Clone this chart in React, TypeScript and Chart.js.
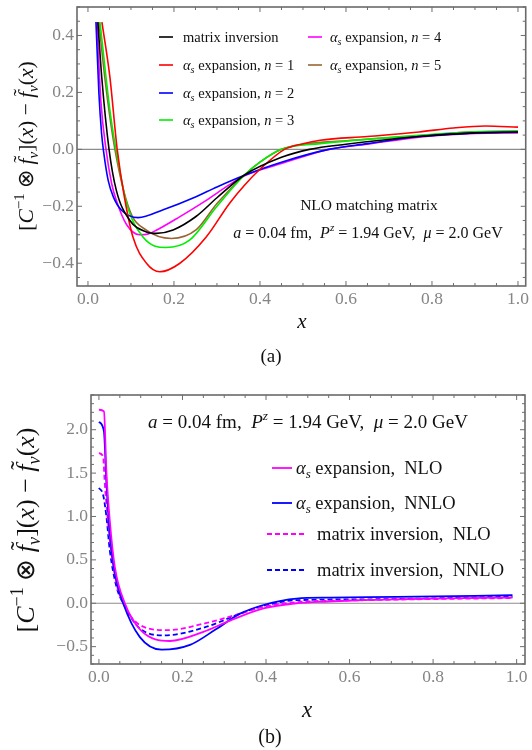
import React, { useEffect, useRef } from 'react';
import { Chart, registerables } from 'chart.js';
Chart.register(...registerables);

const SERIF = '"Liberation Serif", "Times New Roman", serif';

// ---------- Panel (a): NLO matching matrix ----------
const matrixX = [0.023, 0.032, 0.049, 0.066, 0.097, 0.136, 0.159, 0.198, 0.252, 0.3, 0.364, 0.45, 0.515, 0.6, 0.77, 0.9, 1.0];
const matrixY = [0.447, 0.254, 0.0, -0.144, -0.249, -0.29, -0.295, -0.283, -0.235, -0.17, -0.09, -0.028, 0.0, 0.018, 0.045, 0.058, 0.061];
const n1X = [0.0325, 0.051, 0.068, 0.085, 0.105, 0.136, 0.167, 0.213, 0.275, 0.329, 0.364, 0.4, 0.457, 0.5, 0.54, 0.65, 0.77, 0.85, 0.925, 1.0];
const n1Y = [0.447, 0.254, 0.0, -0.17, -0.31, -0.4, -0.43, -0.401, -0.308, -0.19, -0.126, -0.07, 0.0, 0.02, 0.032, 0.045, 0.061, 0.075, 0.082, 0.078];
const n2X = [0.0186, 0.0255, 0.0317, 0.037, 0.047, 0.059, 0.078, 0.117, 0.175, 0.25, 0.3, 0.364, 0.45, 0.56, 0.65, 0.77, 0.9, 1.0];
const n2Y = [0.447, 0.195, 0.055, -0.015, -0.109, -0.167, -0.214, -0.24, -0.212, -0.167, -0.132, -0.091, -0.045, 0.0, 0.02, 0.045, 0.058, 0.06];
const n3X = [0.0279, 0.051, 0.065, 0.09, 0.128, 0.181, 0.237, 0.3, 0.364, 0.4, 0.45, 0.54, 0.77, 0.9, 1.0];
const n3Y = [0.447, 0.137, 0.0, -0.19, -0.308, -0.345, -0.318, -0.2, -0.09, -0.045, 0.0, 0.02, 0.049, 0.062, 0.064];
const n4X = [0.0209, 0.03, 0.042, 0.055, 0.066, 0.09, 0.12, 0.14, 0.159, 0.213, 0.275, 0.329, 0.364, 0.45, 0.56, 0.65, 0.77, 0.9, 1.0];
const n4Y = [0.447, 0.17, 0.0, -0.12, -0.18, -0.265, -0.3, -0.297, -0.284, -0.237, -0.179, -0.124, -0.093, -0.05, 0.0, 0.018, 0.043, 0.056, 0.058];
const n5X = [0.0255, 0.039, 0.0627, 0.097, 0.136, 0.194, 0.252, 0.3, 0.364, 0.4, 0.45, 0.5, 0.6, 0.77, 0.9, 1.0];
const n5Y = [0.447, 0.254, 0.0, -0.214, -0.284, -0.313, -0.282, -0.19, -0.09, -0.045, 0.0, 0.018, 0.03, 0.048, 0.062, 0.064];

const topXTicks = [0, 0.2, 0.4, 0.6, 0.8, 1.0];
const topYTicks = [-0.4, -0.2, 0, 0.2, 0.4];

// ---------- Panel (b) ----------
const asNLOX = [0, 0.012, 0.018, 0.026, 0.038, 0.062, 0.1, 0.17, 0.25, 0.314, 0.394, 0.473, 0.55, 0.633, 0.793, 0.99];
const asNLOY = [2.23, 2.21, 1.5, 0.95, 0.42, 0.0, -0.31, -0.435, -0.33, -0.2, -0.06, 0.0, 0.02, 0.035, 0.054, 0.065];
const asNNLOX = [0, 0.012, 0.018, 0.026, 0.038, 0.058, 0.098, 0.15, 0.218, 0.28, 0.338, 0.394, 0.473, 0.553, 0.713, 0.99];
const asNNLOY = [2.09, 1.98, 1.38, 0.81, 0.35, 0.0, -0.39, -0.535, -0.48, -0.3, -0.12, -0.02, 0.054, 0.065, 0.073, 0.092];
const miNLOX = [0, 0.01, 0.014, 0.026, 0.042, 0.058, 0.098, 0.162, 0.258, 0.338, 0.394, 0.473, 0.633, 0.99];
const miNLOY = [1.73, 1.69, 1.38, 0.73, 0.23, 0.0, -0.25, -0.31, -0.227, -0.12, -0.04, 0.012, 0.035, 0.06];
const miNNLOX = [0, 0.01, 0.018, 0.026, 0.042, 0.058, 0.098, 0.158, 0.258, 0.338, 0.394, 0.473, 0.633, 0.99];
const miNNLOY = [1.33, 1.25, 0.995, 0.61, 0.19, 0.0, -0.29, -0.37, -0.27, -0.12, -0.03, 0.035, 0.045, 0.075];

const botXTicks = [0, 0.2, 0.4, 0.6, 0.8, 1.0];
const botYTicks = [-0.5, 0, 0.5, 1.0, 1.5, 2.0];

type Seg = [string, string];

const pts = (xs: number[], ys: number[]) => xs.map((x, i) => ({ x, y: ys[i] }));
const fmt = (v: number) => (v < 0 ? '\u2212' + Math.abs(v).toFixed(1) : v.toFixed(1));

function segFont(style: string, size: number) {
  const small = style.startsWith('sub') || style.startsWith('sup');
  const it = style.endsWith('i');
  const sz = small ? size * 0.7 : size;
  return `${it ? 'italic ' : ''}${sz}px ${SERIF}`;
}

function drawRich(ctx: CanvasRenderingContext2D, segs: Seg[], x: number, y: number, size: number, align: string, color = '#111') {
  ctx.save();
  ctx.fillStyle = color;
  ctx.textBaseline = 'alphabetic';
  ctx.textAlign = 'left';
  let total = 0;
  const widths = segs.map(([t, s]) => {
    ctx.font = segFont(s, size);
    const w = ctx.measureText(t).width;
    total += w;
    return w;
  });
  let cx = align === 'center' ? x - total / 2 : align === 'right' ? x - total : x;
  segs.forEach(([t, s], i) => {
    ctx.font = segFont(s, size);
    let dy = 0;
    if (s.startsWith('sub')) dy = size * 0.22;
    if (s.startsWith('sup')) dy = -size * 0.42;
    ctx.fillText(t, cx, y + dy);
    if (s.startsWith('tilde')) {
      ctx.font = `${size}px ${SERIF}`;
      ctx.textAlign = 'center';
      ctx.fillText('\u02DC', cx + widths[i] / 2 + size * 0.1, y - size * 0.22);
      ctx.textAlign = 'left';
    }
    cx += widths[i];
  });
  ctx.restore();
}

const yTitle: Seg[] = [
  ['[', 'r'], ['C', 'i'], ['\u22121', 'sup-r'], [' \u2297 ', 'r'], ['f', 'tilde-i'], ['v', 'sub-i'],
  ['](', 'r'], ['x', 'i'], [') \u2212 ', 'r'], ['f', 'tilde-i'], ['v', 'sub-i'], ['(', 'r'], ['x', 'i'], [')', 'r'],
];
const alphaExp = (n: string): Seg[] => [['\u03B1', 'i'], ['s', 'sub-i'], [' expansion, ', 'r'], ['n', 'i'], [' = ' + n, 'r']];
const paramLine: Seg[] = [
  ['a', 'i'], [' = 0.04 fm,  ', 'r'], ['P', 'i'], ['z', 'sup-i'], [' = 1.94 GeV,  ', 'r'], ['\u03BC', 'i'], [' = 2.0 GeV', 'r'],
];

interface PanelCfg {
  datasets: any[];
  xMin: number; xMax: number; yMin: number; yMax: number;
  xTicks: number[]; yTicks: number[];
  xMinor: number; yMinor: number; xMajor: number; yMajor: number;
  pad: { left: number; right: number; top: number; bottom: number };
  texts: (ctx: CanvasRenderingContext2D, chart: any) => void;
}

function makeConfig(p: PanelCfg): any {
  const decor = {
    id: 'decor',
    beforeDatasetsDraw(chart: any) {
      const { ctx, chartArea: a, scales } = chart;
      const y0 = scales.y.getPixelForValue(0);
      ctx.save();
      ctx.strokeStyle = '#8c8c8c';
      ctx.lineWidth = 1.2;
      ctx.beginPath();
      ctx.moveTo(a.left, y0);
      ctx.lineTo(a.right, y0);
      ctx.stroke();
      ctx.restore();
    },
    afterDatasetsDraw(chart: any) {
      const { ctx, chartArea: a, scales } = chart;
      ctx.save();
      ctx.strokeStyle = '#6e6e6e';
      ctx.lineWidth = 1;
      const isMajor = (v: number, step: number) => Math.abs(v / step - Math.round(v / step)) < 1e-6;
      ctx.beginPath();
      for (let k = Math.ceil(p.xMin / p.xMinor - 1e-9); k * p.xMinor <= p.xMax + 1e-9; k++) {
        const v = k * p.xMinor;
        const px = scales.x.getPixelForValue(v);
        const L = isMajor(v, p.xMajor) ? 5 : 3;
        ctx.moveTo(px, a.bottom); ctx.lineTo(px, a.bottom - L);
        ctx.moveTo(px, a.top); ctx.lineTo(px, a.top + L);
      }
      for (let k = Math.ceil(p.yMin / p.yMinor - 1e-9); k * p.yMinor <= p.yMax + 1e-9; k++) {
        const v = k * p.yMinor;
        const py = scales.y.getPixelForValue(v);
        const L = isMajor(v, p.yMajor) ? 5 : 3;
        ctx.moveTo(a.left, py); ctx.lineTo(a.left + L, py);
        ctx.moveTo(a.right, py); ctx.lineTo(a.right - L, py);
      }
      ctx.stroke();
      ctx.lineWidth = 1.6;
      ctx.strokeStyle = '#6a6a6a';
      ctx.strokeRect(a.left, a.top, a.right - a.left, a.bottom - a.top);
      ctx.restore();
    },
    afterDraw(chart: any) {
      p.texts(chart.ctx, chart);
    },
  };
  return {
    type: 'line',
    data: { datasets: p.datasets },
    options: {
      animation: false,
      responsive: false,
      layout: { padding: { left: 0, right: p.pad.right, top: p.pad.top, bottom: 0 } },
      plugins: { legend: { display: false }, title: { display: false }, tooltip: { enabled: false } },
      elements: { point: { radius: 0 } },
      scales: {
        x: {
          type: 'linear', min: p.xMin, max: p.xMax,
          afterFit: (s: any) => { s.height = p.pad.bottom; },
          afterBuildTicks: (s: any) => { s.ticks = p.xTicks.map((v) => ({ value: v })); },
          grid: { display: false, drawTicks: false },
          border: { display: false },
          ticks: { callback: (v: number) => fmt(v), color: '#858585', font: { family: SERIF, size: 17.5 }, padding: 3, maxRotation: 0, autoSkip: false },
        },
        y: {
          type: 'linear', min: p.yMin, max: p.yMax,
          afterFit: (s: any) => { s.width = p.pad.left; },
          afterBuildTicks: (s: any) => { s.ticks = p.yTicks.map((v) => ({ value: v })); },
          grid: { display: false, drawTicks: false },
          border: { display: false },
          ticks: { callback: (v: number) => fmt(v), color: '#858585', font: { family: SERIF, size: 17.5, lineHeight: 0.4 }, padding: 3, autoSkip: false },
        },
      },
    },
    plugins: [decor],
  };
}

const lineDs = (label: string, xs: number[], ys: number[], color: string, width: number, dash: number[] = []) => ({
  label,
  data: pts(xs, ys),
  borderColor: color,
  borderWidth: width,
  borderDash: dash,
  cubicInterpolationMode: 'monotone',
  pointRadius: 0,
  fill: false,
});

const topPanel: PanelCfg = {
  datasets: [
    lineDs('matrix inversion', matrixX, matrixY, '#000000', 1.6),
    lineDs('n = 1', n1X, n1Y, '#ff0000', 1.6),
    lineDs('n = 2', n2X, n2Y, '#0000ff', 1.6),
    lineDs('n = 3', n3X, n3Y, '#00ee00', 1.6),
    lineDs('n = 4', n4X, n4Y, '#ff00ff', 1.6),
    lineDs('n = 5', n5X, n5Y, '#996633', 1.6),
  ],
  xMin: -0.0255, xMax: 1.018, yMin: -0.48, yMax: 0.5,
  xTicks: topXTicks, yTicks: topYTicks,
  xMinor: 0.05, yMinor: 0.05, xMajor: 0.2, yMajor: 0.2,
  pad: { left: 77, right: 5, top: 7, bottom: 89 },
  texts: (ctx) => {
    const legend: [string, Seg[], number, number, number][] = [
      ['#000000', [['matrix inversion', 'r']], 159, 183, 37],
      ['#ff0000', alphaExp('1'), 159, 183, 65],
      ['#0000ff', alphaExp('2'), 159, 183, 93],
      ['#00ee00', alphaExp('3'), 159, 183, 120],
      ['#ff00ff', alphaExp('4'), 308, 330, 37],
      ['#996633', alphaExp('5'), 308, 330, 65],
    ];
    legend.forEach(([c, segs, lx, tx, y]) => {
      ctx.save();
      ctx.strokeStyle = c; ctx.lineWidth = 1.6;
      ctx.beginPath(); ctx.moveTo(lx, y); ctx.lineTo(lx + 14, y); ctx.stroke();
      ctx.restore();
      drawRich(ctx, segs, tx, y + 5, 14.5, 'left');
    });
    drawRich(ctx, [['NLO matching matrix', 'r']], 369, 210, 15.5, 'center');
    drawRich(ctx, paramLine, 368, 238, 16, 'center');
    ctx.save();
    ctx.translate(33, 146);
    ctx.rotate(-Math.PI / 2);
    drawRich(ctx, yTitle, 0, 0, 21.5, 'center');
    ctx.restore();
    drawRich(ctx, [['x', 'i']], 302, 328, 21, 'center');
    drawRich(ctx, [['(a)', 'r']], 271, 362, 19, 'center');
  },
};

const botPanel: PanelCfg = {
  datasets: [
    lineDs('alpha_s expansion, NLO', asNLOX, asNLOY, '#ff00ff', 1.8),
    lineDs('alpha_s expansion, NNLO', asNNLOX, asNNLOY, '#0000ff', 1.8),
    lineDs('matrix inversion, NLO', miNLOX, miNLOY, '#ff00ff', 1.8, [5, 3]),
    lineDs('matrix inversion, NNLO', miNNLOX, miNNLOY, '#0000ff', 1.8, [5, 3]),
  ],
  xMin: -0.019, xMax: 1.02, yMin: -0.7, yMax: 2.4,
  xTicks: botXTicks, yTicks: botYTicks,
  xMinor: 0.05, yMinor: 0.1, xMajor: 0.2, yMajor: 0.5,
  pad: { left: 91, right: 7, top: 20, bottom: 86 },
  texts: (ctx) => {
    drawRich(ctx, paramLine, 308, 53, 19, 'center');
    const legend: [string, Seg[], number, number, number, boolean][] = [
      ['#ff00ff', [['\u03B1', 'i'], ['s', 'sub-i'], [' expansion,  NLO', 'r']], 272, 296, 93, false],
      ['#0000ff', [['\u03B1', 'i'], ['s', 'sub-i'], [' expansion,  NNLO', 'r']], 272, 296, 128, false],
      ['#ff00ff', [['matrix inversion,  NLO', 'r']], 267, 317, 159, true],
      ['#0000ff', [['matrix inversion,  NNLO', 'r']], 267, 317, 195, true],
    ];
    legend.forEach(([c, segs, lx, tx, y, dashed]) => {
      ctx.save();
      ctx.strokeStyle = c; ctx.lineWidth = 1.8;
      if (dashed) ctx.setLineDash([5, 3]);
      ctx.beginPath(); ctx.moveTo(lx, y); ctx.lineTo(lx + (dashed ? 40 : 20), y); ctx.stroke();
      ctx.restore();
      drawRich(ctx, segs, tx, y + 6, 18.5, 'left');
    });
    ctx.save();
    ctx.translate(34, 155);
    ctx.rotate(-Math.PI / 2);
    drawRich(ctx, yTitle, 0, 0, 26, 'center');
    ctx.restore();
    drawRich(ctx, [['x', 'i']], 307, 342, 23, 'center');
    drawRich(ctx, [['(b)', 'r']], 270, 368, 20, 'center');
  },
};

function Panel({ cfg }: { cfg: PanelCfg }) {
  const ref = useRef<HTMLCanvasElement>(null);
  useEffect(() => {
    if (!ref.current) return;
    const chart = new Chart(ref.current, makeConfig(cfg));
    return () => chart.destroy();
  }, [cfg]);
  return <canvas ref={ref} width={532} height={375} style={{ display: 'block', width: 532, height: 375 }} />;
}

export default function App() {
  return (
    <div style={{ position: 'absolute', left: 0, top: 0, width: 532, height: 750, background: '#fff' }}>
      <Panel cfg={topPanel} />
      <Panel cfg={botPanel} />
    </div>
  );
}
